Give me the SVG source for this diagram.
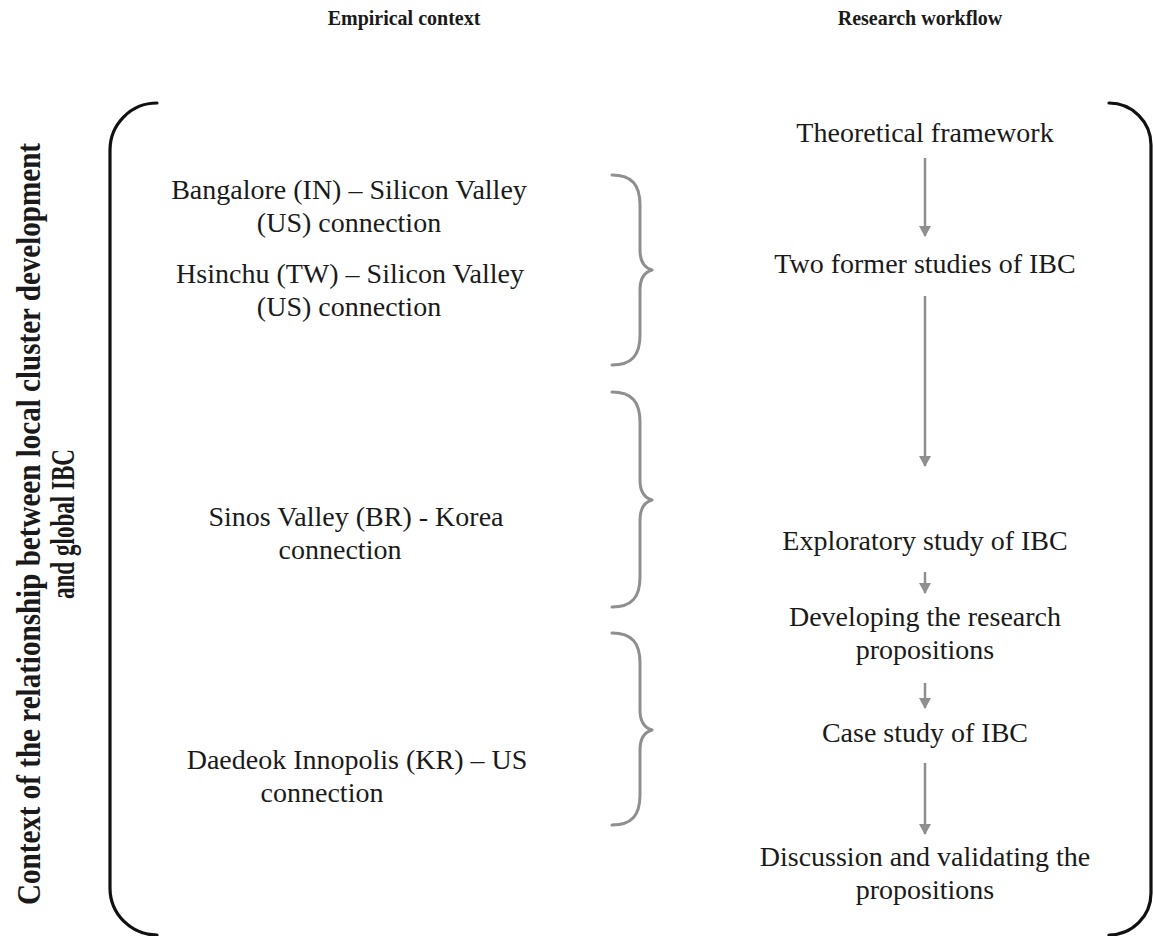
<svg xmlns="http://www.w3.org/2000/svg" width="1153" height="936" viewBox="0 0 1153 936">
<defs>
<marker id="ah" markerWidth="12" markerHeight="12" refX="10" refY="6" orient="auto" markerUnits="userSpaceOnUse">
<path d="M0,0 L11,6 L0,12 Z" fill="#8f8f8f"/>
</marker>
<style>
.t{font-family:"Liberation Serif","Times New Roman",serif;font-size:28px;fill:#1a1a1a;text-anchor:middle}
.h{font-family:"Liberation Serif","Times New Roman",serif;font-size:20px;font-weight:bold;fill:#1a1a1a;text-anchor:middle}
.v{font-family:"Liberation Serif","Times New Roman",serif;font-size:34px;font-weight:bold;fill:#1a1a1a;text-anchor:middle}
.br{fill:none;stroke:#111;stroke-width:3.2;stroke-linecap:round}
.cb{fill:none;stroke:#8f8f8f;stroke-width:3;stroke-linecap:round;stroke-linejoin:round}
.ar{stroke:#8f8f8f;stroke-width:2.5;fill:none;marker-end:url(#ah)}
</style>
</defs>
<rect width="1153" height="936" fill="#fff"/>
<g id="headers">
<text class="h" x="404" y="25">Empirical context</text>
<text class="h" x="920" y="25">Research workflow</text>
</g>
<g id="side-label">
<text class="v" transform="translate(40,524) rotate(-90)" x="0" y="0" textLength="762" lengthAdjust="spacingAndGlyphs">Context of the relationship between local cluster development</text>
<text class="v" transform="translate(74,524) rotate(-90)" x="0" y="0" textLength="150" lengthAdjust="spacingAndGlyphs">and global IBC</text>
</g>
<g id="outer-bracket">
<path class="br" d="M157,103 A47,47 0 0 0 110,150 L110,888 A47,47 0 0 0 157,935"/>
<path class="br" d="M1109,103 A42,42 0 0 1 1151,145 L1151,893 A42,42 0 0 1 1109,935"/>
</g>
<g id="bangalore">
<text class="t" x="349" y="199">Bangalore (IN) – Silicon Valley</text>
<text class="t" x="349" y="232">(US) connection</text>
</g>
<g id="hsinchu">
<text class="t" x="350" y="283">Hsinchu (TW) – Silicon Valley</text>
<text class="t" x="349" y="316">(US) connection</text>
</g>
<g id="sinos">
<text class="t" x="356" y="526">Sinos Valley (BR) - Korea</text>
<text class="t" x="340" y="559">connection</text>
</g>
<g id="daedeok">
<text class="t" x="357" y="769">Daedeok Innopolis (KR) – US</text>
<text class="t" x="322" y="802">connection</text>
</g>
<g id="braces">
<path class="cb" d="M612,175 C632,175 640,185 640,205 L640,250 C640,262 645,268 652,270 C645,272 640,278 640,290 L640,335 C640,355 632,365 612,365"/>
<path class="cb" d="M612,392 C632,392 640,402 640,422 L640,480 C640,492 645,498 652,500 C645,502 640,508 640,520 L640,577 C640,597 632,607 612,607"/>
<path class="cb" d="M612,633 C632,633 640,643 640,663 L640,710 C640,722 645,728 652,730 C645,732 640,738 640,750 L640,795 C640,815 632,825 612,825"/>
</g>
<g id="theoretical"><text class="t" x="925" y="142">Theoretical framework</text></g>
<g id="two-former"><text class="t" x="925" y="273">Two former studies of IBC</text></g>
<g id="exploratory"><text class="t" x="925" y="550">Exploratory study of IBC</text></g>
<g id="developing">
<text class="t" x="925" y="626">Developing the research</text>
<text class="t" x="925" y="659">propositions</text>
</g>
<g id="case-study"><text class="t" x="925" y="742">Case study of IBC</text></g>
<g id="discussion">
<text class="t" x="925" y="866">Discussion and validating the</text>
<text class="t" x="925" y="899">propositions</text>
</g>
<g id="connectors">
<line class="ar" x1="925" y1="158" x2="925" y2="236"/>
<line class="ar" x1="925" y1="296" x2="925" y2="466"/>
<line class="ar" x1="925" y1="572" x2="925" y2="593"/>
<line class="ar" x1="925" y1="683" x2="925" y2="708"/>
<line class="ar" x1="925" y1="763" x2="925" y2="834"/>
</g>
</svg>
